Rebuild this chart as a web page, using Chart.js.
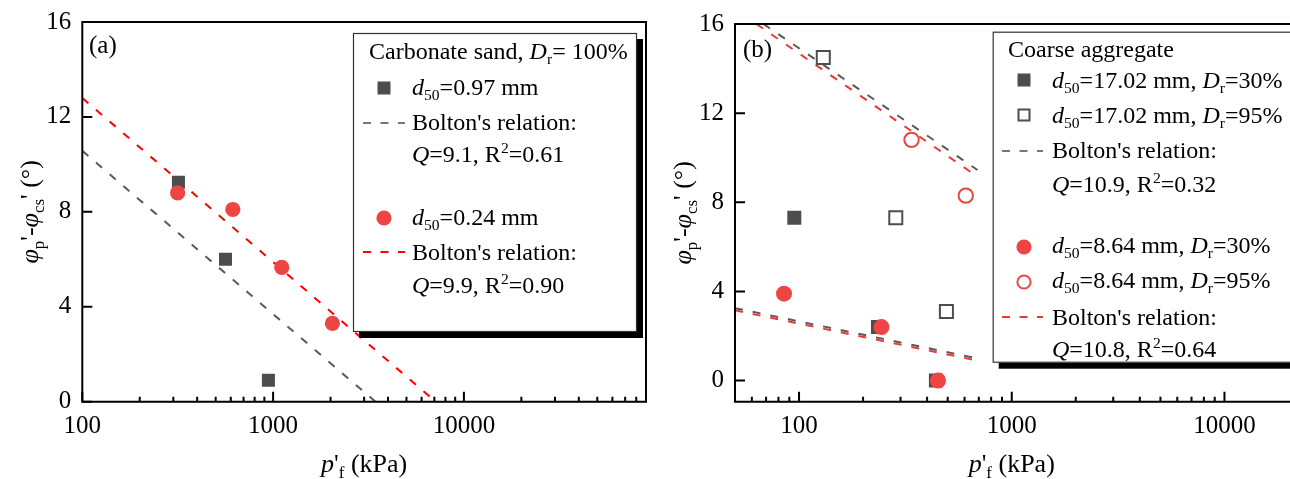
<!DOCTYPE html>
<html>
<head>
<meta charset="utf-8">
<script src="https://cdn.jsdelivr.net/npm/chart.js@4.4.1/dist/chart.umd.min.js"></script>
<style>
  html, body { margin: 0; padding: 0; background: #fff; overflow: hidden; }
  #wrapA { position: absolute; left: 0; top: 0; width: 650px; height: 479px; }
  #wrapB { position: absolute; left: 650px; top: 0; width: 640px; height: 479px; }
</style>
</head>
<body>
<div id="wrapA"><canvas id="chartA" width="650" height="479"></canvas></div>
<div id="wrapB"><canvas id="chartB" width="640" height="479"></canvas></div>
<script>
// ---------------- Panel (a): carbonate sand, Dr = 100% ----------------
const aSquareP   = [319, 563, 945];          // d50 = 0.97 mm
const aSquarePhi = [9.25, 6.0, 0.9];
const aCircleP   = [316, 615, 1110, 2045];   // d50 = 0.24 mm
const aCirclePhi = [8.8, 8.1, 5.66, 3.3];
const aGrayLineP   = [100, 3440];            // Bolton Q=9.1
const aGrayLinePhi = [10.57, 0];
const aRedLineP    = [100, 7100];            // Bolton Q=9.9
const aRedLinePhi  = [12.8, 0];
const aXTicks = [100, 1000, 10000];
const aYTicks = [0, 4, 8, 12, 16];

// ---------------- Panel (b): coarse aggregate ----------------
const bFilledSqP   = [95, 235, 440];         // d50=17.02 mm, Dr=30%
const bFilledSqPhi = [7.3, 2.4, 0];
const bOpenSqP     = [130, 285, 493];        // d50=17.02 mm, Dr=95%
const bOpenSqPhi   = [14.5, 7.3, 3.1];
const bFilledCiP   = [85, 244, 450];         // d50=8.64 mm, Dr=30%
const bFilledCiPhi = [3.9, 2.4, 0];
const bOpenCiP     = [338, 608];             // d50=8.64 mm, Dr=95%
const bOpenCiPhi   = [10.8, 8.3];
const bGrayUpP   = [68, 690];   const bGrayUpPhi  = [16, 9.45];
const bRedUpP    = [63, 690];   const bRedUpPhi   = [16, 9.15];
const bGrayLoP   = [50, 700];   const bGrayLoPhi  = [3.25, 0.98];
const bRedLoP    = [50, 700];   const bRedLoPhi   = [3.15, 0.88];
const bXTicks = [100, 1000, 10000];
const bYTicks = [0, 4, 8, 12, 16];

const FONT = '"Liberation Serif", "Times New Roman", serif';
const GRAY = '#4d4d4d';
const GRAYLINE = '#5a5a5a';
const REDPT = '#ef4444';

function pts(xs, ys) { return xs.map((x, i) => ({ x: x, y: ys[i] })); }

function drawRich(ctx, segs, x, y, size) {
  let cx = x;
  for (const sg of segs) {
    const fs = sg.s ? size * 0.65 : size;
    ctx.font = (sg.i ? 'italic ' : '') + fs + 'px ' + FONT;
    const dy = sg.s === 'sub' ? size * 0.22 : (sg.s === 'sup' ? -size * 0.36 : 0);
    ctx.fillText(sg.t, cx, y + dy);
    cx += ctx.measureText(sg.t).width;
  }
  return cx - x;
}
function richWidth(ctx, segs, size) {
  let w = 0;
  for (const sg of segs) {
    const fs = sg.s ? size * 0.65 : size;
    ctx.font = (sg.i ? 'italic ' : '') + fs + 'px ' + FONT;
    w += ctx.measureText(sg.t).width;
  }
  return w;
}

const yTitleSegs = [
  { t: 'φ', i: true }, { t: 'p', s: 'sub' }, { t: "'" }, { t: '-' },
  { t: 'φ', i: true }, { t: 'cs', s: 'sub' }, { t: "'" }, { t: ' (°)' }
];
const xTitleSegs = [
  { t: 'p', i: true }, { t: "'" }, { t: 'f', s: 'sub' }, { t: ' (kPa)' }
];

function minorTicks(min, max) {
  const out = [];
  for (let d = Math.pow(10, Math.floor(Math.log10(min))); d <= max; d *= 10) {
    for (let k = 2; k <= 9; k++) {
      const v = k * d;
      if (v >= min - 1e-9 && v <= max + 1e-9) out.push(v);
    }
  }
  return out;
}

function legendLine(ctx, x1, x2, y, color) {
  ctx.save();
  ctx.strokeStyle = color; ctx.lineWidth = 2; ctx.setLineDash([8, 9.5]);
  ctx.beginPath(); ctx.moveTo(x1, y); ctx.lineTo(x2, y); ctx.stroke();
  ctx.restore();
}
function legendSquare(ctx, x, y, side, filled) {
  ctx.save();
  if (filled) { ctx.fillStyle = GRAY; ctx.fillRect(x - side / 2, y - side / 2, side, side); }
  else { ctx.strokeStyle = GRAY; ctx.lineWidth = 2; ctx.strokeRect(x - side / 2 + 1, y - side / 2 + 1, side - 2, side - 2); }
  ctx.restore();
}
function legendCircle(ctx, x, y, r, filled) {
  ctx.save();
  ctx.beginPath();
  if (filled) { ctx.arc(x, y, r, 0, Math.PI * 2); ctx.fillStyle = REDPT; ctx.fill(); }
  else { ctx.arc(x, y, r - 1, 0, Math.PI * 2); ctx.strokeStyle = REDPT; ctx.lineWidth = 2; ctx.stroke(); }
  ctx.restore();
}

function makeDecor(cfg) {
  return {
    id: 'decor_' + cfg.name,
    afterDraw(chart) {
      const ctx = chart.ctx;
      const ca = chart.chartArea;
      const xs = chart.scales.x, ys = chart.scales.y;
      ctx.save();
      // frame
      ctx.strokeStyle = '#000'; ctx.lineWidth = 2; ctx.setLineDash([]);
      ctx.beginPath();
      ctx.moveTo(ca.left, ca.top); ctx.lineTo(ca.left, ca.bottom);
      ctx.moveTo(ca.left - 1, ca.bottom); ctx.lineTo(ca.right + (cfg.rightBorder ? 1 : 10), ca.bottom);
      ctx.moveTo(ca.left - 1, ca.top); ctx.lineTo(ca.right + (cfg.rightBorder ? 1 : 10), ca.top);
      if (cfg.rightBorder) { ctx.moveTo(ca.right, ca.top); ctx.lineTo(ca.right, ca.bottom); }
      ctx.stroke();
      // ticks (inward)
      ctx.beginPath();
      for (const v of cfg.xMajor) { const p = xs.getPixelForValue(v); ctx.moveTo(p, ca.bottom); ctx.lineTo(p, ca.bottom - 10); }
      for (const v of minorTicks(xs.min, xs.max)) { const p = xs.getPixelForValue(v); if (p > ca.left + 1 && p < ca.right - 1) { ctx.moveTo(p, ca.bottom); ctx.lineTo(p, ca.bottom - 5); } }
      for (const v of cfg.yMajor) { const p = ys.getPixelForValue(v); ctx.moveTo(ca.left, p); ctx.lineTo(ca.left + 10, p); }
      ctx.stroke();
      // titles
      ctx.fillStyle = '#000'; ctx.textBaseline = 'alphabetic'; ctx.textAlign = 'left';
      const xw = richWidth(ctx, xTitleSegs, 26);
      drawRich(ctx, xTitleSegs, (ca.left + ca.right) / 2 - xw / 2, 472, 26);
      ctx.save();
      ctx.translate(cfg.yTitleX, (ca.top + ca.bottom) / 2);
      ctx.rotate(-Math.PI / 2);
      const yw = richWidth(ctx, yTitleSegs, 26);
      drawRich(ctx, yTitleSegs, -yw / 2, 0, 26);
      ctx.restore();
      // panel label
      ctx.font = '25px ' + FONT;
      ctx.fillText(cfg.label, cfg.labelX, cfg.labelY);
      // legend
      cfg.legend(ctx);
      ctx.restore();
    }
  };
}

function baseOptions(xmin, xmax, ymin, ymax, xt, yt, pad, yw) {
  return {
    responsive: false, animation: false, devicePixelRatio: 1,
    layout: { padding: pad, autoPadding: false },
    plugins: { legend: { display: false }, tooltip: { enabled: false } },
    scales: {
      x: {
        type: 'logarithmic', min: xmin, max: xmax,
        grid: { display: false, drawTicks: false }, border: { display: false },
        ticks: { font: { family: FONT, size: 25 }, color: '#000', padding: 10, maxRotation: 0, autoSkip: false,
                 callback: (v) => String(v) },
        afterBuildTicks: (s) => { s.ticks = xt.map(v => ({ value: v })); },
        afterFit: (s) => { s.height = 77.3; s.paddingLeft = 0; s.paddingRight = 0; }
      },
      y: {
        min: ymin, max: ymax,
        grid: { display: false, drawTicks: false }, border: { display: false },
        ticks: { font: { family: FONT, size: 25 }, color: '#000', padding: 11, callback: (v) => String(v) },
        afterBuildTicks: (s) => { s.ticks = yt.map(v => ({ value: v })); },
        afterFit: (s) => { s.width = yw; s.paddingTop = 0; s.paddingBottom = 0; }
      }
    }
  };
}

function lineDs(xs, ys, color) {
  return { type: 'line', data: pts(xs, ys), borderColor: color, borderWidth: 2, borderDash: [8, 10],
           pointRadius: 0, fill: false, tension: 0, order: 2 };
}

// ---------- Chart A ----------
const optsA = baseOptions(100, 90000, 0, 16, aXTicks, aYTicks, { left: 0, right: 4, top: 22, bottom: 0 }, 82.3);
new Chart(document.getElementById('chartA'), {
  type: 'scatter',
  data: {
    datasets: [
      lineDs(aGrayLineP, aGrayLinePhi, GRAYLINE),
      lineDs(aRedLineP, aRedLinePhi, '#ff0000'),
      { data: pts(aSquareP, aSquarePhi), pointStyle: 'rect', pointRadius: 9.2, backgroundColor: GRAY, borderWidth: 0, order: 1 },
      { data: pts(aCircleP, aCirclePhi), pointStyle: 'circle', pointRadius: 7.6, backgroundColor: REDPT, borderWidth: 0, order: 0 }
    ]
  },
  options: optsA,
  plugins: [makeDecor({
    name: 'a', rightBorder: true, xMajor: aXTicks, yMajor: aYTicks, yTitleX: 38, label: '(a)', labelX: 89, labelY: 53,
    legend: (ctx) => {
      const L = 353, T = 33, W = 284, H = 299;
      ctx.fillStyle = '#000'; ctx.fillRect(L + 6, T + 6, W, H);
      ctx.fillStyle = '#fff'; ctx.fillRect(L, T, W, H);
      ctx.strokeStyle = '#333'; ctx.lineWidth = 1.2; ctx.strokeRect(L + 0.5, T + 0.5, W - 1, H - 1);
      ctx.fillStyle = '#000';
      const S = 24, tx = 412;
      drawRich(ctx, [{ t: 'Carbonate sand, ' }, { t: 'D', i: true }, { t: 'r', s: 'sub' }, { t: '= 100%' }], 369, 59, S);
      legendSquare(ctx, 384, 88, 13, true);
      drawRich(ctx, [{ t: 'd', i: true }, { t: '50', s: 'sub' }, { t: '=0.97 mm' }], tx, 95, S);
      legendLine(ctx, 363, 405, 123, '#777');
      drawRich(ctx, [{ t: "Bolton's relation:" }], tx, 130, S);
      drawRich(ctx, [{ t: 'Q', i: true }, { t: '=9.1, R' }, { t: '2', s: 'sup' }, { t: '=0.61' }], tx, 162, S);
      legendCircle(ctx, 384, 218, 7.6, true);
      drawRich(ctx, [{ t: 'd', i: true }, { t: '50', s: 'sub' }, { t: '=0.24 mm' }], tx, 225, S);
      legendLine(ctx, 363, 405, 252, '#ff0000');
      drawRich(ctx, [{ t: "Bolton's relation:" }], tx, 260, S);
      drawRich(ctx, [{ t: 'Q', i: true }, { t: '=9.9, R' }, { t: '2', s: 'sup' }, { t: '=0.90' }], tx, 293, S);
    }
  })]
});

// ---------- Chart B ----------
const optsB = baseOptions(50, 20000, -0.95, 16, bXTicks, bYTicks, { left: 0, right: 1.5, top: 24, bottom: 0 }, 85);
const REDB = '#f03535';
new Chart(document.getElementById('chartB'), {
  type: 'scatter',
  data: {
    datasets: [
      lineDs(bGrayUpP, bGrayUpPhi, GRAYLINE),
      lineDs(bRedUpP, bRedUpPhi, REDB),
      lineDs(bGrayLoP, bGrayLoPhi, GRAYLINE),
      lineDs(bRedLoP, bRedLoPhi, REDB),
      { data: pts(bFilledSqP, bFilledSqPhi), pointStyle: 'rect', pointRadius: 9.9, backgroundColor: GRAY, borderWidth: 0, order: 1 },
      { data: pts(bOpenSqP, bOpenSqPhi), pointStyle: 'rect', pointRadius: 9.2, backgroundColor: 'rgba(255,255,255,0)', borderColor: GRAY, borderWidth: 2, order: 1 },
      { data: pts(bFilledCiP, bFilledCiPhi), pointStyle: 'circle', pointRadius: 8, backgroundColor: REDPT, borderWidth: 0, order: 0 },
      { data: pts(bOpenCiP, bOpenCiPhi), pointStyle: 'circle', pointRadius: 7.2, backgroundColor: 'rgba(255,255,255,0)', borderColor: REDPT, borderWidth: 2, order: 0 }
    ]
  },
  options: optsB,
  plugins: [makeDecor({
    name: 'b', rightBorder: false, xMajor: bXTicks, yMajor: bYTicks, yTitleX: 41, label: '(b)', labelX: 93, labelY: 57,
    legend: (ctx) => {
      const L = 342.7, T = 31.7, W = 320, H = 331;
      ctx.fillStyle = '#000'; ctx.fillRect(L + 6, T + 6, W, H);
      ctx.fillStyle = '#fff'; ctx.fillRect(L, T, W, H);
      ctx.strokeStyle = '#333'; ctx.lineWidth = 1.2; ctx.strokeRect(L + 0.5, T + 0.5, W - 1, H - 1);
      ctx.fillStyle = '#000';
      const S = 24, tx = 402, sx = 374;
      drawRich(ctx, [{ t: 'Coarse aggregate' }], 358, 57, S);
      legendSquare(ctx, sx, 80, 13, true);
      drawRich(ctx, [{ t: 'd', i: true }, { t: '50', s: 'sub' }, { t: '=17.02 mm, ' }, { t: 'D', i: true }, { t: 'r', s: 'sub' }, { t: '=30%' }], tx, 88, S);
      legendSquare(ctx, sx, 115, 13, false);
      drawRich(ctx, [{ t: 'd', i: true }, { t: '50', s: 'sub' }, { t: '=17.02 mm, ' }, { t: 'D', i: true }, { t: 'r', s: 'sub' }, { t: '=95%' }], tx, 123, S);
      legendLine(ctx, 352, 393, 151, '#777');
      drawRich(ctx, [{ t: "Bolton's relation:" }], tx, 158, S);
      drawRich(ctx, [{ t: 'Q', i: true }, { t: '=10.9, R' }, { t: '2', s: 'sup' }, { t: '=0.32' }], tx, 192, S);
      legendCircle(ctx, sx, 247, 7.6, true);
      drawRich(ctx, [{ t: 'd', i: true }, { t: '50', s: 'sub' }, { t: '=8.64 mm, ' }, { t: 'D', i: true }, { t: 'r', s: 'sub' }, { t: '=30%' }], tx, 253, S);
      legendCircle(ctx, sx, 282, 7.6, false);
      drawRich(ctx, [{ t: 'd', i: true }, { t: '50', s: 'sub' }, { t: '=8.64 mm, ' }, { t: 'D', i: true }, { t: 'r', s: 'sub' }, { t: '=95%' }], tx, 288, S);
      legendLine(ctx, 352, 393, 317, REDB);
      drawRich(ctx, [{ t: "Bolton's relation:" }], tx, 325, S);
      drawRich(ctx, [{ t: 'Q', i: true }, { t: '=10.8, R' }, { t: '2', s: 'sup' }, { t: '=0.64' }], tx, 357, S);
    }
  })]
});
</script>
</body>
</html>
